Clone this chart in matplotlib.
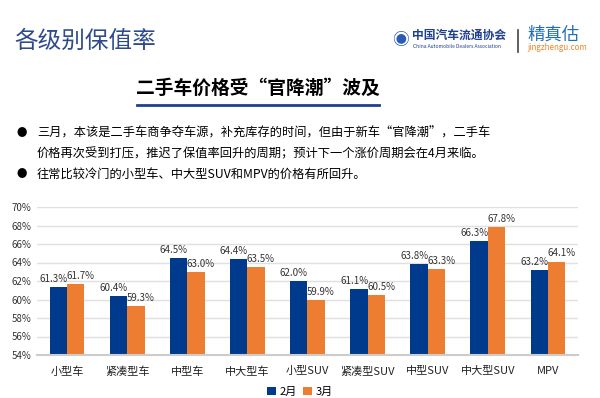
import matplotlib
matplotlib.use('Agg')
import matplotlib.pyplot as plt
import numpy as np
from matplotlib.lines import Line2D

plt.rcParams['font.family'] = ['Noto Sans CJK SC', 'DejaVu Sans']

# --- data ---
categories = ['小型车', '紧凑型车', '中型车', '中大型车', '小型SUV', '紧凑型SUV', '中型SUV', '中大型SUV', 'MPV']
feb = [61.3, 60.4, 64.5, 64.4, 62.0, 61.1, 63.8, 66.3, 63.2]
mar = [61.7, 59.3, 63.0, 63.5, 59.9, 60.5, 63.3, 67.8, 64.1]
series_names = ['2月', '3月']
yticks = [54, 56, 58, 60, 62, 64, 66, 68, 70]

title = '各级别保值率'
subtitle = '二手车价格受“官降潮”波及'
bullets = [
    '三月，本该是二手车商争夺车源，补充库存的时间，但由于新车“官降潮”，二手车',
    '价格再次受到打压，推迟了保值率回升的周期；预计下一个涨价周期会在4月来临。',
    '往常比较冷门的小型车、中大型SUV和MPV的价格有所回升。',
]

BLUE = '#003A8C'
ORANGE = '#ED7D31'

W, H = 600, 398
fig = plt.figure(figsize=(6, 3.98), dpi=100)


def px(x, y):
    return x / W, 1 - y / H


# header
fig.text(*px(14, 41), title, fontsize=17, color='#2E4A8E', va='center', ha='left')
fig.text(*px(412, 35), '中国汽车流通协会', fontsize=8.5, color='#1F3F8F', va='center', ha='left',
         fontweight='bold')
fig.text(*px(413, 46), 'China Automobile Dealers Association', fontsize=3.6, color='#1F3F8F',
         va='center', ha='left')
fig.text(*px(400, 40), '◉', fontsize=12, color='#2A5BB5', va='center', ha='center')
fig.add_artist(Line2D([518 / W, 518 / W], [1 - 30 / H, 1 - 52 / H], color='#444444', lw=1.2))
fig.text(*px(527, 35), '精真估', fontsize=12.5, color='#1F6FB8', va='center', ha='left')
fig.text(*px(527, 48), 'jingzhengu.com', fontsize=5.8, color='#F0872A', va='center', ha='left')

# subtitle with underline
fig.text(*px(258, 88), subtitle, fontsize=13.5, fontweight='bold', color='black', va='center', ha='center')
fig.add_artist(Line2D([137 / W, 379 / W], [1 - 105 / H, 1 - 105 / H], color='#1F3F8F', lw=2))

# bullets
line_y = [133, 154, 174]
for i, (txt, yy) in enumerate(zip(bullets, line_y)):
    if i != 1:
        fig.text(*px(22, yy), '●', fontsize=7.5, color='black', va='center', ha='center')
    fig.text(*px(37, yy), txt, fontsize=8.8, color='black', va='center', ha='left')

# chart
ax = fig.add_axes([37 / W, 1 - 355 / H, (578 - 37) / W, (355 - 207) / H])
x = np.arange(len(categories))
bw = 0.29
b1 = ax.bar(x - bw / 2, [v - 54 for v in feb], bw, bottom=54, color=BLUE, label=series_names[0])
b2 = ax.bar(x + bw / 2, [v - 54 for v in mar], bw, bottom=54, color=ORANGE, label=series_names[1])

for xi, v in zip(x, feb):
    ax.text(xi - bw / 2 - 0.08, v + 0.35, f'{v:.1f}%', ha='center', va='bottom', fontsize=7, color='#333333')
for xi, v in zip(x, mar):
    ax.text(xi + bw / 2 + 0.08, v + 0.35, f'{v:.1f}%', ha='center', va='bottom', fontsize=7, color='#333333')

ax.set_ylim(54, 70)
ax.set_xlim(-0.5, len(categories) - 0.5)
ax.set_yticks(yticks)
ax.set_yticklabels([f'{t}%' for t in yticks], fontsize=7, color='#333333')
ax.set_xticks(x)
ax.set_xticklabels(categories, fontsize=8, color='#222222')
ax.tick_params(axis='both', length=0)
ax.tick_params(axis='x', pad=8)
ax.tick_params(axis='y', pad=4)
ax.grid(axis='y', color='#E0E0E0', lw=1)
ax.set_axisbelow(True)
for s in ['top', 'right', 'left']:
    ax.spines[s].set_visible(False)
ax.spines['bottom'].set_color('#CCCCCC')
ax.spines['bottom'].set_linewidth(1.5)

leg = fig.legend(handles=[b1, b2], loc='center', bbox_to_anchor=(300 / W, 1 - 392 / H), ncol=2,
                 frameon=False, fontsize=8, handlelength=0.8, handleheight=0.8, handletextpad=0.3,
                 columnspacing=0.6)

fig.savefig('out.png', dpi=100)
